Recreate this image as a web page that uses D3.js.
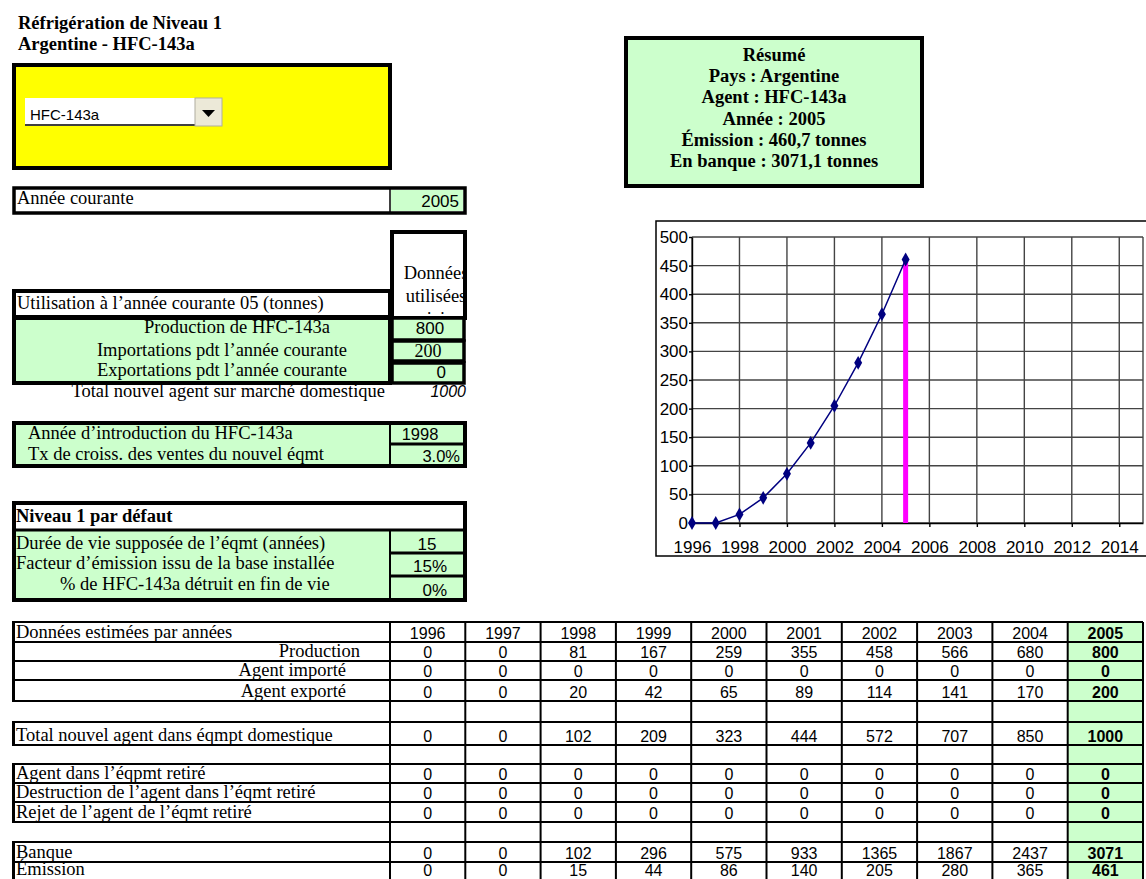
<!DOCTYPE html>
<html>
<head>
<meta charset="utf-8">
<script src="https://cdn.jsdelivr.net/npm/d3@7"></script>
<style>
  body { margin: 0; background: #fff; }
</style>
</head>
<body>
<div id="sheet"></div>
<script>
// data
const years = [1996, 1997, 1998, 1999, 2000, 2001, 2002, 2003, 2004, 2005];
const production = [0, 0, 81, 167, 259, 355, 458, 566, 680, 800];
const imported = [0, 0, 0, 0, 0, 0, 0, 0, 0, 0];
const exported = [0, 0, 20, 42, 65, 89, 114, 141, 170, 200];
const totalNew = [0, 0, 102, 209, 323, 444, 572, 707, 850, 1000];
const retired = [0, 0, 0, 0, 0, 0, 0, 0, 0, 0];
const destroyed = [0, 0, 0, 0, 0, 0, 0, 0, 0, 0];
const released = [0, 0, 0, 0, 0, 0, 0, 0, 0, 0];
const bank = [0, 0, 102, 296, 575, 933, 1365, 1867, 2437, 3071];
const emission = [0, 0, 15, 44, 86, 140, 205, 280, 365, 461];
const emissionChart = [0, 0, 15, 44, 86, 140, 205, 280, 365, 460.7];
const currentYear = 2005;
const xTicks = [1996, 1998, 2000, 2002, 2004, 2006, 2008, 2010, 2012, 2014];
const yTicks = [0, 50, 100, 150, 200, 250, 300, 350, 400, 450, 500];
const summaryLines = ["Résumé", "Pays : Argentine", "Agent : HFC-143a", "Année : 2005",
  "Émission : 460,7 tonnes", "En banque : 3071,1 tonnes"];

const SERIF = "'Liberation Serif', 'Times New Roman', serif";
const SANS = "'Liberation Sans', Arial, sans-serif";
const GREEN = "#ccffcc";
const FS = 18.5; // serif label size

const svg = d3.select("#sheet")
  .append("svg")
  .attr("width", 1146)
  .attr("height", 879);

function txt(x, y, s, o = {}) {
  return svg.append("text")
    .attr("x", x)
    .attr("y", y)
    .attr("text-anchor", o.anchor || "start")
    .attr("font-family", o.font || SERIF)
    .attr("font-size", o.size || FS)
    .attr("font-weight", o.bold ? "bold" : "normal")
    .attr("font-style", o.italic ? "italic" : "normal")
    .attr("fill", "#000")
    .text(s);
}

function box(x, y, w, h, fill, sw) {
  return svg.append("rect")
    .attr("x", x).attr("y", y)
    .attr("width", w).attr("height", h)
    .attr("fill", fill)
    .attr("stroke", "#000")
    .attr("stroke-width", sw);
}

function hline(x1, x2, y, sw) {
  svg.append("line").attr("x1", x1).attr("x2", x2).attr("y1", y).attr("y2", y)
    .attr("stroke", "#000").attr("stroke-width", sw);
}
function vline(x, y1, y2, sw) {
  svg.append("line").attr("x1", x).attr("x2", x).attr("y1", y1).attr("y2", y2)
    .attr("stroke", "#000").attr("stroke-width", sw);
}

// ---------- left panel ----------
txt(18, 29, "Réfrigération de Niveau 1", { bold: true, size: 18.5 });
txt(18, 50, "Argentine - HFC-143a", { bold: true, size: 18.5 });

// yellow selector
box(14, 65, 376, 103, "#ffff00", 4);
svg.append("rect").attr("x", 25).attr("y", 98).attr("width", 170).attr("height", 28).attr("fill", "#fff");
hline(25, 195, 125, 1.5);
svg.append("rect").attr("x", 195).attr("y", 98).attr("width", 27).attr("height", 28)
  .attr("fill", "#ece9d8").attr("stroke", "#b0ad9f").attr("stroke-width", 1);
svg.append("path").attr("d", "M202,110 L215,110 L208.5,117 Z").attr("fill", "#000");
txt(30, 120, "HFC-143a", { font: SANS, size: 15 });

// année courante
box(14, 188, 451, 25, "#fff", 3.5);
svg.append("rect").attr("x", 391).attr("y", 190).attr("width", 72).attr("height", 21).attr("fill", GREEN);
vline(390, 188, 213, 1.5);
txt(17, 204, "Année courante");
txt(459, 207, currentYear, { font: SANS, size: 17, anchor: "end" });

// "données utilisées ici" header cell
box(392, 232, 73, 86, "#fff", 4);
svg.append("clipPath").attr("id", "clipDon")
  .append("rect").attr("x", 394).attr("y", 234).attr("width", 70).attr("height", 90);
["Données", "utilisées", "ici"].forEach((s, i) =>
  txt(436, 279 + i * 23, s, { anchor: "middle" }).attr("clip-path", "url(#clipDon)"));

box(14, 291, 376, 26, "#fff", 4);
txt(17, 309, "Utilisation à l’année courante 05 (tonnes)");

box(14, 318, 376, 65, GREEN, 4);
txt(237, 333, "Production de HFC-143a", { anchor: "middle" });
txt(222, 356, "Importations pdt l’année courante", { anchor: "middle" });
txt(222, 376, "Exportations pdt l’année courante", { anchor: "middle" });

const usageVals = [production[9], exported[9], imported[9]];
[[318, 22], [341, 20], [363, 20]].forEach(([y, h]) => {
  box(392, y, 72, h, GREEN, 3.5);
});
txt(430, 334, usageVals[0], { font: SANS, size: 17, anchor: "middle" });
txt(428, 357, usageVals[1], { size: 18, anchor: "middle" });
txt(446, 378, usageVals[2], { font: SANS, size: 17, anchor: "end" });

txt(385, 397, "Total nouvel agent sur marché domestique", { anchor: "end" });
txt(466, 397, totalNew[9], { font: SANS, size: 16, anchor: "end", italic: true });

// introduction year box
box(14, 423, 451, 43, GREEN, 4);
vline(390, 423, 466, 2);
hline(390, 465, 444, 3);
txt(28, 439, "Année d’introduction du HFC-143a");
txt(28, 460, "Tx de croiss. des ventes du nouvel éqmt");
txt(420, 440, 1998, { font: SANS, size: 16.5, anchor: "middle" });
txt(460, 462, "3.0%", { font: SANS, size: 16.5, anchor: "end" });

// default tier 1 box
box(14, 503, 451, 97, GREEN, 4);
svg.append("rect").attr("x", 16).attr("y", 505).attr("width", 447).attr("height", 24).attr("fill", "#fff");
hline(14, 465, 530, 3);
vline(390, 530, 600, 2);
hline(390, 465, 553, 3);
hline(390, 465, 576, 3);
txt(16, 522, "Niveau 1 par défaut", { bold: true });
txt(16, 549, "Durée de vie supposée de l’éqmt (années)");
txt(16, 569, "Facteur d’émission issu de la base installée");
txt(60, 590, "% de HFC-143a détruit en fin de vie");
txt(427, 550, 15, { font: SANS, size: 17, anchor: "middle" });
txt(430, 572, "15%", { font: SANS, size: 17, anchor: "middle" });
txt(447, 596, "0%", { font: SANS, size: 17, anchor: "end" });

// ---------- summary ----------
box(626, 38, 296, 148, GREEN, 4);
summaryLines.forEach((s, i) =>
  txt(774, 61 + i * 21.2, s, { size: 18.5, bold: true, anchor: "middle" }));

// ---------- emission chart ----------
svg.append("rect").attr("x", 656).attr("y", 221).attr("width", 520).attr("height", 335)
  .attr("fill", "#fff").attr("stroke", "#000").attr("stroke-width", 1.5);

const x = d3.scaleLinear().domain([1996, 2015]).range([692, 1143]);
const y = d3.scaleLinear().domain([0, 500]).range([523, 237]);

const grid = svg.append("g").attr("stroke", "#444").attr("stroke-width", 1.4);
xTicks.concat([2015]).forEach(t =>
  grid.append("line").attr("x1", x(t)).attr("x2", x(t)).attr("y1", y(0)).attr("y2", y(500)));
yTicks.forEach(t =>
  grid.append("line").attr("x1", x(1996)).attr("x2", x(2015)).attr("y1", y(t)).attr("y2", y(t)));

const yAxis = svg.append("g")
  .attr("transform", `translate(${x(1996)},0)`)
  .call(d3.axisLeft(y).tickValues(yTicks).tickSize(3).tickPadding(1).tickSizeOuter(0));
yAxis.selectAll("text").attr("font-family", SANS).attr("font-size", 17).attr("fill", "#000");
yAxis.selectAll("line, path").attr("stroke", "#000").attr("stroke-width", 1.4);

const xAxis = svg.append("g")
  .attr("transform", `translate(0,${y(0)})`)
  .call(d3.axisBottom(x).tickValues(xTicks).tickFormat(d3.format("d")).tickSize(4).tickSizeOuter(0));
xAxis.selectAll("text").attr("font-family", SANS).attr("font-size", 17).attr("fill", "#000")
  .attr("dy", 0).attr("y", 30);
xAxis.selectAll("line, path").attr("stroke", "#000").attr("stroke-width", 1.4);

// current year marker
svg.append("line")
  .attr("x1", x(currentYear)).attr("x2", x(currentYear))
  .attr("y1", y(0)).attr("y2", y(emissionChart[9]))
  .attr("stroke", "#ff00ff").attr("stroke-width", 5);

const pts = years.map((yr, i) => ({ yr, v: emissionChart[i] }));
svg.append("path")
  .datum(pts)
  .attr("d", d3.line().x(d => x(d.yr)).y(d => y(d.v)))
  .attr("fill", "none")
  .attr("stroke", "#000080")
  .attr("stroke-width", 1.5);
svg.selectAll(".mk")
  .data(pts)
  .enter().append("path")
  .attr("class", "mk")
  .attr("transform", d => `translate(${x(d.yr)},${y(d.v)})`)
  .attr("d", d3.symbol().type(d3.symbolDiamond).size(55))
  .attr("fill", "#000080");

// ---------- yearly table ----------
const col = d3.scaleBand().domain(years).range([390, 1143]);
const tableRows = [
  { label: "Données estimées par années", values: years, align: "start" },
  { label: "Production", values: production, align: "end" },
  { label: "Agent importé", values: imported, align: "end" },
  { label: "Agent exporté", values: exported, align: "end" },
  null,
  { label: "Total nouvel agent dans éqmpt domestique", values: totalNew, align: "start" },
  null,
  { label: "Agent dans l’éqpmt retiré", values: retired, align: "start" },
  { label: "Destruction de l’agent dans l’éqmt retiré", values: destroyed, align: "start" },
  { label: "Rejet de l’agent de l’éqmt retiré", values: released, align: "start" },
  null,
  { label: "Banque", values: bank, align: "start" },
  { label: "Émission", values: emission, align: "start" }
];
const rowTops = [622, 642, 661, 680, 701, 722, 745, 764, 783, 802, 822, 842, 862, 882];
const labelEnd = [0, 360, 346, 346];

svg.append("rect")
  .attr("x", col(currentYear)).attr("y", rowTops[0])
  .attr("width", col.bandwidth()).attr("height", 879 - rowTops[0])
  .attr("fill", GREEN);

tableRows.forEach((r, i) => {
  if (!r) return;
  const base = Math.min(rowTops[i + 1] - 4, 875);
  if (r.align === "end") txt(labelEnd[i], base, r.label, { anchor: "end" });
  else txt(16, base, r.label);
  r.values.forEach((v, j) => {
    txt(col(years[j]) + col.bandwidth() / 2, base + 1, v,
      { font: SANS, size: 16, anchor: "middle", bold: years[j] === currentYear });
  });
  vline(13.5, rowTops[i], rowTops[i + 1], 3);
});
rowTops.forEach(t => hline(12, 1143, t, 2));
years.forEach(yr => vline(col(yr), rowTops[0], 879, 2));
vline(1143, rowTops[0], 879, 2);
</script>
</body>
</html>
